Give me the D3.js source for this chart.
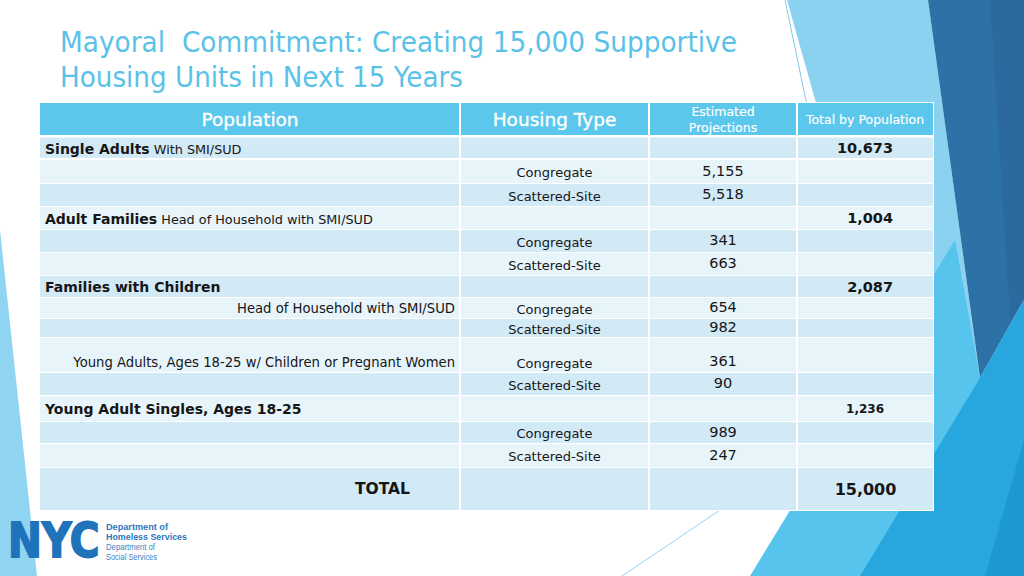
<!DOCTYPE html>
<html>
<head>
<meta charset="utf-8">
<script src="https://cdn.jsdelivr.net/npm/d3@7"></script>
<style>
  html, body { margin: 0; padding: 0; background: #ffffff; }
  svg { display: block; }
</style>
</head>
<body>
<div id="chart"></div>
<script>
// ---------------- DATA ----------------
const titleLines = ["Mayoral  Commitment: Creating 15,000 Supportive", "Housing Units in Next 15 Years"];
const headers = ["Population", "Housing Type", "Estimated|Projections", "Total by Population"];
const groupNames = ["Single Adults", "Adult Families", "Families with Children", "Young Adult Singles, Ages 18-25"];
const groupQualifiers = ["With SMI/SUD", "Head of Household with SMI/SUD", "", ""];
const groupTotals = [10673, 1004, 2087, 1236];
const familySubgroups = ["Head of Household with SMI/SUD", "Young Adults, Ages 18-25 w/ Children or Pregnant Women"];
const housingTypes = ["Congregate", "Scattered-Site"];
const singleAdultsUnits = [5155, 5518];
const adultFamiliesUnits = [341, 663];
const familiesHeadOfHouseholdUnits = [654, 982];
const familiesYoungAdultUnits = [361, 90];
const youngAdultSinglesUnits = [989, 247];
const grandTotalLabel = "TOTAL";
const grandTotal = 15000;
const logoLines = ["Department of", "Homeless Services", "Department of", "Social Services"];

// ---------------- LAYOUT ----------------
const W = 1024, H = 576;
const colEdges = [40, 460, 649, 797, 933];
const rowHeights = [33, 23, 24, 23, 23, 23, 23, 22, 21, 19, 35, 23, 26, 22, 24, 43];
const tableTop = 103;
const C = {
  header: "#5cc7ec", mid: "#d2e9f6", light: "#e7f4fa",
  title: "#5ac2e7", text: "#161616", nyc: "#1f73bb"
};
const fmt = d3.format(",");

// build rows from data
const rows = [];
function addUnits(units) {
  units.forEach((v, i) => rows.push({kind: "unit", type: housingTypes[i], value: v, sub: ""}));
}
rows.push({kind: "group", g: 0}); addUnits(singleAdultsUnits);
rows.push({kind: "group", g: 1}); addUnits(adultFamiliesUnits);
rows.push({kind: "group", g: 2});
rows.push({kind: "unit", type: housingTypes[0], value: familiesHeadOfHouseholdUnits[0], sub: familySubgroups[0]});
rows.push({kind: "unit", type: housingTypes[1], value: familiesHeadOfHouseholdUnits[1], sub: ""});
rows.push({kind: "unit", type: housingTypes[0], value: familiesYoungAdultUnits[0], sub: familySubgroups[1], bottom: true});
rows.push({kind: "unit", type: housingTypes[1], value: familiesYoungAdultUnits[1], sub: ""});
rows.push({kind: "group", g: 3}); addUnits(youngAdultSinglesUnits);
rows.push({kind: "total"});

// y positions via cumulative heights
const rowTops = [];
let acc = tableTop;
rowHeights.forEach(h => { rowTops.push(acc); acc += h; });
const tableBottom = acc;

const svg = d3.select("#chart").append("svg").attr("width", W).attr("height", H)
  .style("font-family", "'DejaVu Sans', Verdana, sans-serif");

// ---------------- BACKGROUND DECOR ----------------
const deco = svg.append("g");
const polys = [
  {p: [[0,230],[37,576],[0,576]], f: "#8fd5f1"},
  {p: [[787,0],[928,0],[980,378],[930,470],[880,330]], f: "#8ad2ef"},
  {p: [[928,0],[1024,0],[1024,300],[980,378]], f: "#2d72a7"},
  {p: [[990,0],[1024,0],[1024,300],[1010,320]], f: "#2a6a9f"},
  {p: [[750,576],[955,240],[980,378],[1024,300],[1024,576]], f: "#56c4ec"},
  {p: [[860,576],[980,378],[1024,300],[1024,576]], f: "#27a7de"},
  {p: [[985,576],[1024,440],[1024,576]], f: "#1e98d0"}
];
deco.selectAll("polygon").data(polys).join("polygon")
  .attr("points", d => d.p.map(q => q.join(",")).join(" "))
  .attr("fill", d => d.f);
deco.append("line").attr("x1", 785).attr("y1", 0).attr("x2", 808).attr("y2", 110)
  .attr("stroke", "#7fcbe9").attr("stroke-width", 1);
deco.append("line").attr("x1", 622).attr("y1", 576).attr("x2", 720).attr("y2", 510)
  .attr("stroke", "#8fd4ef").attr("stroke-width", 1);

// ---------------- TITLE ----------------
const titleWidths = [677, 403];
svg.append("g").selectAll("text").data(titleLines).join("text")
  .attr("x", 60).attr("y", (d, i) => 52 + i * 35)
  .attr("font-size", 28.5).attr("fill", C.title)
  .style("white-space", "pre")
  .attr("textLength", (d, i) => titleWidths[i]).attr("lengthAdjust", "spacingAndGlyphs")
  .text(d => d);

// ---------------- TABLE ----------------
const table = svg.append("g");
table.append("rect").attr("x", colEdges[0] - 1).attr("y", tableTop - 1)
  .attr("width", colEdges[4] - colEdges[0] + 2).attr("height", tableBottom - tableTop + 2)
  .attr("fill", "#ffffff");

const cells = [];
rowHeights.forEach((h, r) => {
  for (let c = 0; c < 4; c++) {
    cells.push({r, c, x: colEdges[c], w: colEdges[c + 1] - colEdges[c], y: rowTops[r], h});
  }
});
table.selectAll("rect.cell").data(cells).join("rect").attr("class", "cell")
  .attr("x", d => d.x + (d.c === 0 ? 0 : 1))
  .attr("y", d => d.y + (d.r === 0 ? 0 : (d.r === 1 ? 1.5 : 1)))
  .attr("width", d => d.w - (d.c === 0 ? 1 : 2) + (d.c === 3 ? 1 : 0))
  .attr("height", d => d.h - (d.r === 0 ? 1 : (d.r === 1 ? 2.5 : 1)))
  .attr("fill", d => d.r === 0 ? C.header : (d.r % 2 === 1 ? C.mid : C.light));

const colCenter = c => (colEdges[c] + colEdges[c + 1]) / 2;

// header text
const hdr = table.append("g").attr("fill", "#ffffff");
headers.forEach((t, c) => {
  const parts = t.split("|");
  const cy = rowTops[0] + rowHeights[0] / 2;
  const size = c < 2 ? 18.5 : 12.5;
  parts.forEach((p, k) => {
    hdr.append("text")
      .attr("x", colCenter(c))
      .attr("y", parts.length > 1 ? cy + (k - 0.5) * 16 : cy)
      .attr("dy", "0.36em")
      .attr("text-anchor", "middle")
      .attr("font-size", size)
      .attr("stroke", "#ffffff").attr("stroke-width", c < 2 ? 0.35 : 0.15)
      .text(p);
  });
});

// body text
const body = table.append("g").attr("fill", C.text);
rows.forEach((row, i) => {
  const r = i + 1;
  const top = rowTops[r], h = rowHeights[r];
  const cy = row.bottom ? top + h - 10 : top + h / 2 + 0.5;
  if (row.kind === "group") {
    const t = body.append("text").attr("x", 45).attr("y", cy).attr("dy", "0.36em");
    t.append("tspan").attr("font-weight", "bold").attr("font-size", 14).text(groupNames[row.g]);
    if (groupQualifiers[row.g]) {
      t.append("tspan").attr("font-size", 12.8).text(" " + groupQualifiers[row.g]);
    }
    const small = row.g === 3;
    body.append("text")
      .attr("x", small ? 884 : 893).attr("y", cy).attr("dy", "0.36em")
      .attr("text-anchor", "end").attr("font-weight", "bold")
      .attr("font-size", small ? 12 : 14.5)
      .text(fmt(groupTotals[row.g]));
  } else if (row.kind === "unit") {
    if (row.sub) {
      body.append("text").attr("x", 455).attr("y", cy).attr("dy", "0.36em")
        .attr("text-anchor", "end").attr("font-size", 13.2).text(row.sub);
    }
    body.append("text").attr("x", colCenter(1)).attr("y", cy + 1).attr("dy", "0.36em")
      .attr("text-anchor", "middle").attr("font-size", 13).text(row.type);
    body.append("text").attr("x", colCenter(2)).attr("y", cy - 1).attr("dy", "0.36em")
      .attr("text-anchor", "middle").attr("font-size", 14.5).text(fmt(row.value));
  } else if (row.kind === "total") {
    body.append("text").attr("x", 410).attr("y", top + h / 2).attr("dy", "0.36em")
      .attr("text-anchor", "end").attr("font-size", 15.5).attr("font-weight", "bold").text(grandTotalLabel);
    body.append("text").attr("x", 865.5).attr("y", top + h / 2 + 1).attr("dy", "0.36em")
      .attr("text-anchor", "middle").attr("font-size", 16).attr("font-weight", "bold").text(fmt(grandTotal));
  }
});

// ---------------- LOGO ----------------
const logo = svg.append("g");
logo.append("text")
  .attr("transform", "translate(8,557) scale(1,1.2)")
  .attr("x", 0).attr("y", 0)
  .attr("font-size", 40.5).attr("font-weight", "bold").attr("fill", C.nyc)
  .attr("stroke", C.nyc).attr("stroke-width", 1.6)
  .style("font-family", "'DejaVu Sans', sans-serif")
  .text("NYC");
const logoY = [529.5, 539.5, 549.5, 559.5];
const logoW = [62, 81, 49, 51];
logo.selectAll("text.dept").data(logoLines).join("text").attr("class", "dept")
  .attr("x", 106).attr("y", (d, i) => logoY[i])
  .attr("font-size", 8.2)
  .attr("font-weight", (d, i) => i < 2 ? "bold" : "normal")
  .attr("fill", (d, i) => i < 2 ? "#2a78bd" : "#3d82c2")
  .attr("textLength", (d, i) => logoW[i]).attr("lengthAdjust", "spacingAndGlyphs")
  .style("font-family", "'Liberation Sans', Arial, sans-serif")
  .text(d => d);
</script>
</body>
</html>
